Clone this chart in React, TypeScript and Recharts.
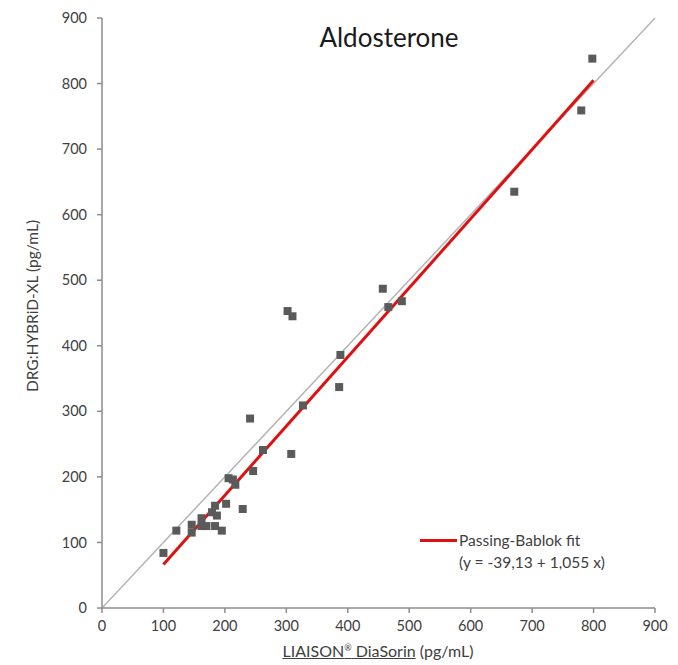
import React from 'react';
import { ScatterChart, Scatter, XAxis, YAxis, ZAxis, ReferenceLine } from 'recharts';

const liaison = [100, 121, 146, 146, 162, 162, 170, 179, 184, 187, 184, 195, 202, 206, 213, 217, 229, 241, 246, 262, 308, 327, 302, 310, 457, 466, 488, 388, 386, 671, 780, 798];
const hybrid = [84, 118, 127, 115, 137, 125, 125, 146, 156, 141, 125, 118, 159, 198, 196, 188, 151, 289, 209, 241, 235, 309, 453, 445, 487, 459, 468, 386, 337, 635, 759, 838];
const xTicks = [0, 100, 200, 300, 400, 500, 600, 700, 800, 900];
const yTicks = [0, 100, 200, 300, 400, 500, 600, 700, 800, 900];
const fitIntercept = -39.13;
const fitSlope = 1.055;
const fitRange = [100, 800];
const identityRange = [0, 900];

const points = liaison.map((x, i) => ({ x, y: hybrid[i] }));
const fitSegment = fitRange.map((x) => ({ x, y: fitIntercept + fitSlope * x }));
const identitySegment = identityRange.map((v) => ({ x: v, y: v }));

const FONT = 'Lato, "Open Sans", sans-serif';
const TEXT = '#404040';
const AXIS = '#8c8c8c';

export default function App() {
  return (
    <div style={{ position: 'absolute', left: 0, top: 0, width: 678, height: 665, background: '#fff' }}>
      <ScatterChart width={678} height={665} margin={{ top: 18, right: 23, bottom: 27, left: 42 }}>
        <XAxis
          type="number"
          dataKey="x"
          domain={[0, 900]}
          ticks={xTicks}
          height={30}
          stroke={AXIS}
          strokeWidth={1.5}
          tickSize={5}
          tickMargin={8}
          tick={{ fill: TEXT, fontSize: 14.5, fontFamily: FONT }}
          allowDataOverflow
        />
        <YAxis
          type="number"
          dataKey="y"
          domain={[0, 900]}
          ticks={yTicks}
          width={60}
          stroke={AXIS}
          strokeWidth={1.5}
          tickSize={5}
          tickMargin={10}
          tick={{ fill: TEXT, fontSize: 14.5, fontFamily: FONT }}
          allowDataOverflow
        />
        <ZAxis range={[52, 52]} />
        <ReferenceLine segment={identitySegment} stroke="#b4b4b4" strokeWidth={1.5} ifOverflow="visible" />
        <ReferenceLine segment={fitSegment} stroke="#e01010" strokeWidth={3} ifOverflow="visible" />
        <Scatter data={points} shape="square" fill="#5a5a5a" isAnimationActive={false} />
      </ScatterChart>
      <div
        style={{
          position: 'absolute',
          left: 420,
          top: 529,
          fontFamily: FONT,
          fontSize: 15.5,
          color: TEXT,
          lineHeight: '22px',
          whiteSpace: 'nowrap',
        }}
      >
        <div style={{ display: 'flex', alignItems: 'center' }}>
          <span style={{ display: 'inline-block', width: 37, height: 3, background: '#e01010', marginRight: 2 }} />
          <span>Passing-Bablok fit</span>
        </div>
        <div style={{ marginLeft: 39 }}>(y = -39,13 + 1,055 x)</div>
      </div>
      <div
        style={{
          position: 'absolute',
          left: 239,
          top: 22,
          width: 300,
          textAlign: 'center',
          fontFamily: FONT,
          fontSize: 26,
          lineHeight: 1.2,
          color: '#1a1a1a',
        }}
      >
        Aldosterone
      </div>
      <div
        style={{
          position: 'absolute',
          left: 32,
          top: 306,
          transform: 'translate(-50%, -50%) rotate(-90deg)',
          whiteSpace: 'nowrap',
          fontFamily: FONT,
          fontSize: 15.5,
          color: TEXT,
        }}
      >
        DRG:HYBRiD-XL (pg/mL)
      </div>
      <div
        style={{
          position: 'absolute',
          left: 178,
          top: 641,
          width: 400,
          textAlign: 'center',
          whiteSpace: 'nowrap',
          fontFamily: FONT,
          fontSize: 16,
          lineHeight: 1.2,
          color: TEXT,
        }}
      >
        <span style={{ textDecoration: 'underline' }}>
          LIAISON<sup style={{ fontSize: 9 }}>®</sup> DiaSorin
        </span>{' '}
        (pg/mL)
      </div>
    </div>
  );
}
